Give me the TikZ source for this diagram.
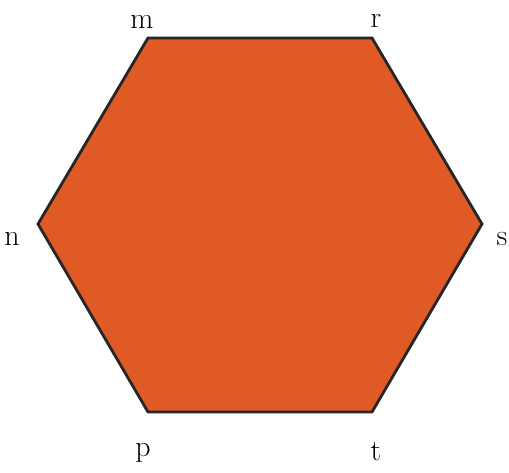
\documentclass[tikz,border=0pt]{standalone}
\usepackage{tikz}
\usetikzlibrary{positioning}
\definecolor{hexorange}{RGB}{224,90,38}

\begin{document}
\begin{tikzpicture}[x=0.02cm, y=0.02cm,
		corner/.style={font=\fontsize{17}{20}\selectfont, inner sep=0pt},
		hexface/.style={fill=hexorange, draw=black!85, line width=1.6pt, line join=miter}]
		\useasboundingbox (0,0) rectangle (509,472);
		
		%Vertices
		\coordinate (m) at (148,434);
		\coordinate (r) at (372,434);
		\coordinate (s) at (482,248);
		\coordinate (t) at (372,60);
		\coordinate (p) at (148,60);
		\coordinate (n) at (38,248);
		
		%Hexagon
		\draw[hexface] (m) -- (r) -- (s) -- (t) -- (p) -- (n) -- cycle;
		
		%Labels
		\node[corner] (mlabel) at (142,450){m};
		\node[corner] (rlabel) at (376,451){r};
		\node[corner] (slabel) at (502,233){s};
		\node[corner] (tlabel) at (376,21){t};
		\node[corner] (plabel) at (143,19){p};
		\node[corner] (nlabel) at (12,233){n};
	\end{tikzpicture}
\end{document}
